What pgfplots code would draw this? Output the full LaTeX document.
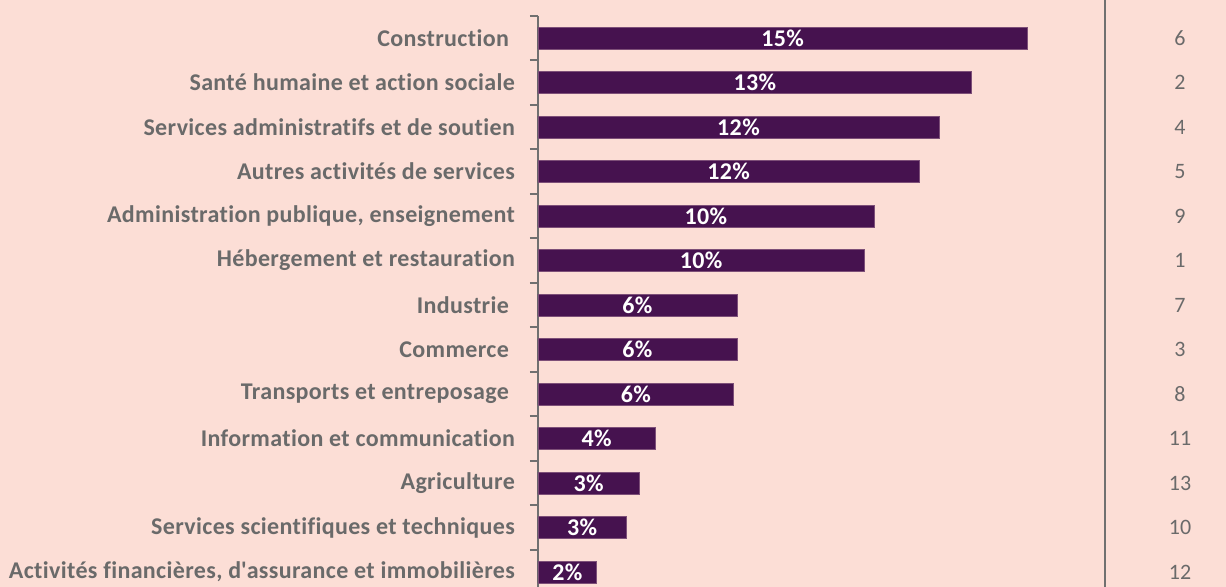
\documentclass[border=0pt]{standalone}
\usepackage{pgfplots}
\pgfplotsset{compat=1.18}
\usepackage{pgfplotstable}
\usepackage{fontspec}
\setmainfont{Carlito}[Ligatures={NoCommon}]
\newfontfamily\lblfont{Carlito}[Ligatures={NoCommon}, LetterSpace=1.5]

\definecolor{bg}{HTML}{FCDED6}
\definecolor{barc}{HTML}{46124F}
\definecolor{txt}{HTML}{6A6A6A}
\definecolor{axl}{HTML}{707070}

% i = row, v = share in %, r = number shown on the right
\pgfplotstableread{
i v r
0 15.0 6
1 13.3 2
2 12.3 4
3 11.7 5
4 10.3 9
5 10.0 1
6 6.1 7
7 6.1 3
8 6.0 8
9 3.6 11
10 3.1 13
11 2.7 10
12 1.8 12
}\data

\begin{document}
\begin{tikzpicture}
\fill[bg] (0,0) rectangle (613pt,-293.5pt);
\clip (0,0) rectangle (613pt,-293.5pt);
\draw[axl, line width=1pt] (552.5pt,0pt) -- (552.5pt,-293.5pt);

\begin{axis}[
    at={(269pt,-297.125pt)}, anchor=south west,
    scale only axis, width=283.5pt, height=289.25pt,
    xmin=0, xmax=17.39, ymin=-0.5, ymax=12.5,
    y dir=reverse,
    axis x line=none, axis y line*=left,
    y axis line style={axl, line width=0.8pt},
    ytick={0,...,12},
    yticklabels={Construction\kern3pt, Santé humaine et action sociale,
      Services administratifs et de soutien, Autres activités de services,
      {Administration publique, enseignement}, Hébergement et restauration,
      Industrie\kern3pt, Commerce\kern3pt, Transports et entreposage\kern3pt,
      Information et communication, Agriculture,
      Services scientifiques et techniques,
      {Activités financières, d\textquotesingle assurance et immobilières}},
    major tick length=0pt,
    minor ytick={-0.5,0.5,...,12.5},
    minor tick length=4pt,
    tick align=outside,
    minor tick style={axl, line width=0.8pt},
    yticklabel style={font=\lblfont\bfseries\fontsize{12}{14}\selectfont, text=txt, xshift=-8pt},
    /pgf/number format/assume math mode=true,
    clip=false,
]
\addplot[xbar, bar width=11pt, fill=barc, draw=barc!70!bg, line width=0.3pt]
    table[x=v, y=i] {\data};
\addplot[draw=none, mark=none,
    nodes near coords={\pgfmathprintnumber[fixed,precision=0]{\pgfplotspointmeta}\%},
    point meta=\thisrow{v},
    every node near coord/.append style={anchor=center, text=white,
      font=\lblfont\bfseries\fontsize{12}{14}\selectfont}]
    table[x expr=\thisrow{v}/2, y=i] {\data};
\end{axis}

\begin{axis}[
    at={(269pt,-297.125pt)}, anchor=south west,
    scale only axis, width=283.5pt, height=289.25pt,
    xmin=0, xmax=17.39, ymin=-0.5, ymax=12.5,
    y dir=reverse,
    axis x line=none, axis y line*=right,
    y axis line style={draw=none},
    ytick={0,...,12},
    yticklabels from table={\data}{r},
    major tick length=0pt,
    yticklabel style={anchor=center, xshift=37.5pt, text=txt,
      font=\fontsize{11}{13}\selectfont},
]
\addplot[draw=none, mark=none] table[x=v, y=i] {\data};
\end{axis}
\end{tikzpicture}
\end{document}
